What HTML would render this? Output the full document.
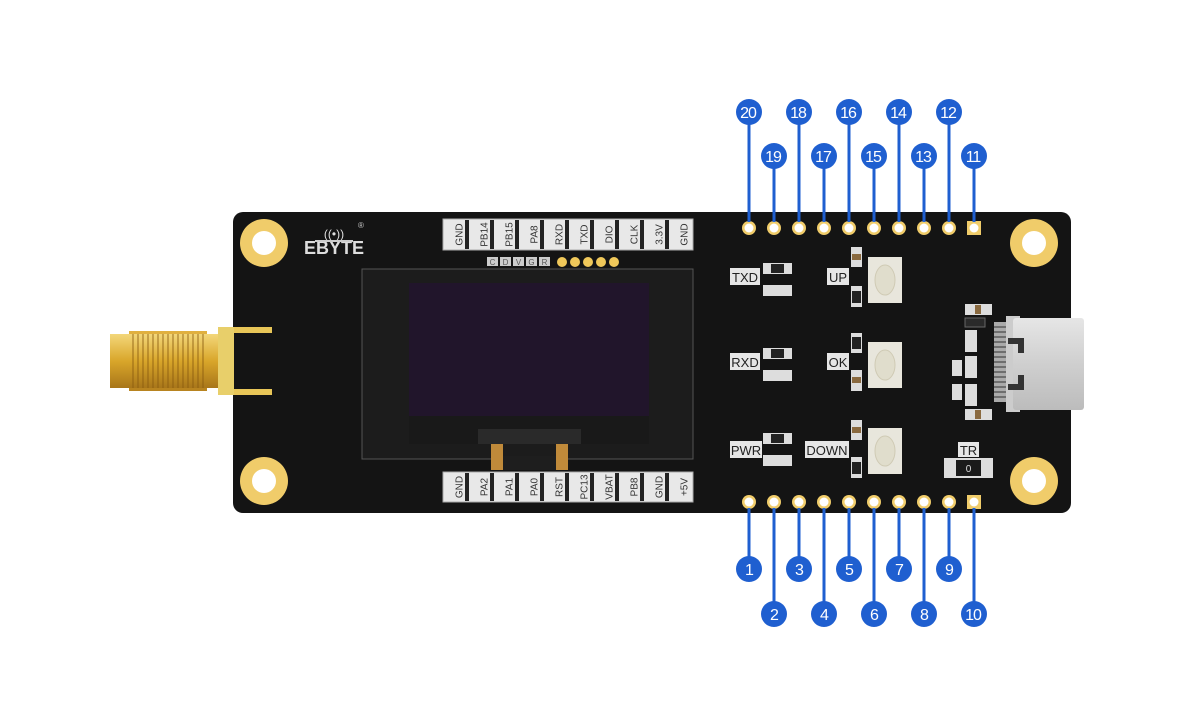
<!DOCTYPE html>
<html><head><meta charset="utf-8"><style>
html,body{margin:0;padding:0;background:#fff;}
svg{display:block;font-family:"Liberation Sans",sans-serif;}
</style></head><body>
<svg width="1200" height="727" viewBox="0 0 1200 727" xmlns="http://www.w3.org/2000/svg">
<defs>
<linearGradient id="gold" x1="0" y1="0" x2="0" y2="1">
<stop offset="0" stop-color="#f3d77a"/><stop offset="0.5" stop-color="#d9a62a"/><stop offset="1" stop-color="#a8761a"/>
</linearGradient>
<linearGradient id="usb" x1="0" y1="0" x2="0" y2="1">
<stop offset="0" stop-color="#e6e6e6"/><stop offset="0.5" stop-color="#cfcfcf"/><stop offset="1" stop-color="#bcbcbc"/>
</linearGradient>
</defs>
<!-- antenna -->
<rect x="110" y="334" width="110" height="54" fill="url(#gold)"/>
<g stroke="#8a5c10" stroke-width="1.2" opacity="0.7">
<line x1="133" y1="331" x2="133" y2="391"/><line x1="138" y1="331" x2="138" y2="391"/><line x1="143" y1="331" x2="143" y2="391"/><line x1="148" y1="331" x2="148" y2="391"/><line x1="153" y1="331" x2="153" y2="391"/><line x1="158" y1="331" x2="158" y2="391"/><line x1="163" y1="331" x2="163" y2="391"/><line x1="168" y1="331" x2="168" y2="391"/><line x1="173" y1="331" x2="173" y2="391"/><line x1="178" y1="331" x2="178" y2="391"/><line x1="183" y1="331" x2="183" y2="391"/><line x1="188" y1="331" x2="188" y2="391"/><line x1="193" y1="331" x2="193" y2="391"/><line x1="198" y1="331" x2="198" y2="391"/><line x1="203" y1="331" x2="203" y2="391"/>
</g>
<rect x="129" y="331" width="78" height="3" fill="#e0b040"/><rect x="129" y="388" width="78" height="3" fill="#b88420"/>
<!-- board -->
<rect x="233" y="212" width="838" height="301" rx="10" fill="#141414"/>
<!-- antenna bracket -->
<rect x="218" y="327" width="16" height="68" fill="#e8cf6a"/>
<rect x="234" y="327" width="38" height="6" fill="#e8c658"/>
<rect x="234" y="389" width="38" height="6" fill="#e8c658"/>
<!-- holes -->
<g fill="#f0cc6a"><circle cx="264" cy="243" r="24"/><circle cx="264" cy="481" r="24"/><circle cx="1034" cy="243" r="24"/><circle cx="1034" cy="481" r="24"/></g>
<g fill="#fff"><circle cx="264" cy="243" r="12"/><circle cx="264" cy="481" r="12"/><circle cx="1034" cy="243" r="12"/><circle cx="1034" cy="481" r="12"/></g>
<!-- logo -->
<text x="334" y="254" text-anchor="middle" fill="#ddd" font-size="18" font-weight="bold">EBYTE</text>
<text x="334" y="238" text-anchor="middle" fill="#ddd" font-size="12">((•))</text>
<text x="358" y="228" fill="#ccc" font-size="8">®</text>
<rect x="315" y="240" width="38" height="2" fill="#ccc"/>
<!-- top label strip -->
<rect x="443" y="219" width="250" height="31" fill="#e8e8e8" stroke="#aaa"/>
<g fill="#222"><rect x="465" y="220" width="4" height="29"/><rect x="490" y="220" width="4" height="29"/><rect x="515" y="220" width="4" height="29"/><rect x="540" y="220" width="4" height="29"/><rect x="565" y="220" width="4" height="29"/><rect x="590" y="220" width="4" height="29"/><rect x="615" y="220" width="4" height="29"/><rect x="640" y="220" width="4" height="29"/><rect x="665" y="220" width="4" height="29"/></g>
<g fill="#333" font-size="10" text-anchor="middle">
<text transform="translate(459,234.5) rotate(-90)" dy="3.5">GND</text>
<text transform="translate(484,234.5) rotate(-90)" dy="3.5">PB14</text>
<text transform="translate(509,234.5) rotate(-90)" dy="3.5">PB15</text>
<text transform="translate(534,234.5) rotate(-90)" dy="3.5">PA8</text>
<text transform="translate(559,234.5) rotate(-90)" dy="3.5">RXD</text>
<text transform="translate(584,234.5) rotate(-90)" dy="3.5">TXD</text>
<text transform="translate(609,234.5) rotate(-90)" dy="3.5">DIO</text>
<text transform="translate(634,234.5) rotate(-90)" dy="3.5">CLK</text>
<text transform="translate(659,234.5) rotate(-90)" dy="3.5">3.3V</text>
<text transform="translate(684,234.5) rotate(-90)" dy="3.5">GND</text>
</g>
<!-- CDVGR -->
<g fill="#ccc"><rect x="487" y="257" width="11" height="9"/><rect x="500" y="257" width="11" height="9"/><rect x="513" y="257" width="11" height="9"/><rect x="526" y="257" width="11" height="9"/><rect x="539" y="257" width="11" height="9"/></g>
<g fill="#555" font-size="8" text-anchor="middle"><text x="492.5" y="265">C</text><text x="505.5" y="265">D</text><text x="518.5" y="265">V</text><text x="531.5" y="265">G</text><text x="544.5" y="265">R</text></g>
<g fill="#f0c85a"><circle cx="562" cy="262" r="5"/><circle cx="575" cy="262" r="5"/><circle cx="588" cy="262" r="5"/><circle cx="601" cy="262" r="5"/><circle cx="614" cy="262" r="5"/></g>
<!-- OLED -->
<rect x="362" y="269" width="331" height="190" fill="#1c1c1c" stroke="#555"/>
<rect x="409" y="283" width="240" height="161" fill="#191919"/>
<rect x="409" y="283" width="240" height="133" fill="#21152b"/>
<rect x="478" y="429" width="103" height="15" fill="#2a2a2a"/>
<rect x="491" y="444" width="12" height="26" fill="#c08a3a"/>
<rect x="556" y="444" width="12" height="26" fill="#c08a3a"/>
<rect x="503" y="456" width="53" height="14" fill="#1e1e1e"/>
<!-- bottom label strip -->
<rect x="443" y="472" width="250" height="30" fill="#e8e8e8" stroke="#aaa"/>
<g fill="#222"><rect x="465" y="473" width="4" height="28"/><rect x="490" y="473" width="4" height="28"/><rect x="515" y="473" width="4" height="28"/><rect x="540" y="473" width="4" height="28"/><rect x="565" y="473" width="4" height="28"/><rect x="590" y="473" width="4" height="28"/><rect x="615" y="473" width="4" height="28"/><rect x="640" y="473" width="4" height="28"/><rect x="665" y="473" width="4" height="28"/></g>
<g fill="#333" font-size="10" text-anchor="middle">
<text transform="translate(459,487) rotate(-90)" dy="3.5">GND</text>
<text transform="translate(484,487) rotate(-90)" dy="3.5">PA2</text>
<text transform="translate(509,487) rotate(-90)" dy="3.5">PA1</text>
<text transform="translate(534,487) rotate(-90)" dy="3.5">PA0</text>
<text transform="translate(559,487) rotate(-90)" dy="3.5">RST</text>
<text transform="translate(584,487) rotate(-90)" dy="3.5">PC13</text>
<text transform="translate(609,487) rotate(-90)" dy="3.5">VBAT</text>
<text transform="translate(634,487) rotate(-90)" dy="3.5">PB8</text>
<text transform="translate(659,487) rotate(-90)" dy="3.5">GND</text>
<text transform="translate(684,487) rotate(-90)" dy="3.5">+5V</text>
</g>
<!-- LED labels and parts -->
<g fill="#e6e6e6">
<rect x="730" y="268" width="30" height="17"/><rect x="827" y="268" width="22" height="17"/>
<rect x="730" y="353" width="30" height="17"/><rect x="827" y="353" width="22" height="17"/>
<rect x="730" y="441" width="32" height="17"/><rect x="805" y="441" width="44" height="17"/>
<rect x="958" y="442" width="21" height="15"/>
</g>
<g fill="#222" font-size="13" text-anchor="middle">
<text x="745" y="282">TXD</text><text x="838" y="282">UP</text>
<text x="745" y="367">RXD</text><text x="838" y="367">OK</text>
<text x="746" y="455">PWR</text><text x="827" y="455">DOWN</text>
<text x="968.5" y="455">TR</text>
</g>
<g fill="#ddd">
<rect x="763" y="263" width="29" height="11"/><rect x="763" y="285" width="29" height="11"/>
<rect x="763" y="348" width="29" height="11"/><rect x="763" y="370" width="29" height="11"/>
<rect x="763" y="433" width="29" height="11"/><rect x="763" y="455" width="29" height="11"/>
<rect x="851" y="247" width="11" height="20"/><rect x="851" y="286" width="11" height="21"/>
<rect x="851" y="333" width="11" height="20"/><rect x="851" y="370" width="11" height="21"/>
<rect x="851" y="420" width="11" height="20"/><rect x="851" y="457" width="11" height="21"/>
</g>
<g fill="#222"><rect x="771" y="264" width="13" height="9"/><rect x="771" y="349" width="13" height="9"/><rect x="771" y="434" width="13" height="9"/>
<rect x="852" y="291" width="9" height="12"/><rect x="852" y="337" width="9" height="12"/><rect x="852" y="462" width="9" height="12"/></g>
<g fill="#8a6a40"><rect x="852" y="254" width="9" height="6"/><rect x="852" y="377" width="9" height="6"/><rect x="852" y="427" width="9" height="6"/></g>
<!-- buttons -->
<g fill="#e8e6dc"><rect x="868" y="257" width="34" height="46"/><rect x="868" y="342" width="34" height="46"/><rect x="868" y="428" width="34" height="46"/></g>
<g fill="#e0ddcc" stroke="#cfcab4"><ellipse cx="885" cy="280" rx="10" ry="15"/><ellipse cx="885" cy="365" rx="10" ry="15"/><ellipse cx="885" cy="451" rx="10" ry="15"/></g>
<!-- TR switch -->
<rect x="944" y="458" width="49" height="20" fill="#ddd"/>
<rect x="956" y="460" width="25" height="16" fill="#1a1a1a"/>
<text x="968.5" y="472" fill="#ddd" font-size="10" text-anchor="middle">0</text>
<!-- USB area parts -->
<g fill="#ddd"><rect x="965" y="304" width="27" height="11"/><rect x="965" y="409" width="27" height="11"/>
<rect x="965" y="330" width="12" height="22"/><rect x="965" y="356" width="12" height="22"/><rect x="965" y="384" width="12" height="22"/>
<rect x="952" y="360" width="10" height="16"/><rect x="952" y="384" width="10" height="16"/></g>
<rect x="965" y="318" width="20" height="9" fill="#2a2a2a" stroke="#666"/>
<g fill="#8a6a40"><rect x="975" y="305" width="6" height="9"/><rect x="975" y="410" width="6" height="9"/></g>
<!-- USB-C -->
<rect x="994" y="322" width="18" height="80" fill="#aaa"/>
<g stroke="#333" stroke-width="1"><line x1="994" y1="327" x2="1010" y2="327"/><line x1="994" y1="332" x2="1010" y2="332"/><line x1="994" y1="337" x2="1010" y2="337"/><line x1="994" y1="342" x2="1010" y2="342"/><line x1="994" y1="347" x2="1010" y2="347"/><line x1="994" y1="352" x2="1010" y2="352"/><line x1="994" y1="357" x2="1010" y2="357"/><line x1="994" y1="362" x2="1010" y2="362"/><line x1="994" y1="367" x2="1010" y2="367"/><line x1="994" y1="372" x2="1010" y2="372"/><line x1="994" y1="377" x2="1010" y2="377"/><line x1="994" y1="382" x2="1010" y2="382"/><line x1="994" y1="387" x2="1010" y2="387"/><line x1="994" y1="392" x2="1010" y2="392"/><line x1="994" y1="397" x2="1010" y2="397"/></g>
<rect x="1006" y="316" width="14" height="96" fill="#ccc"/>
<rect x="1013" y="318" width="71" height="92" rx="3" fill="url(#usb)"/>
<g fill="#333"><rect x="1008" y="338" width="16" height="6"/><rect x="1018" y="338" width="6" height="15"/><rect x="1008" y="384" width="16" height="6"/><rect x="1018" y="375" width="6" height="15"/></g>
<!-- pins -->
<g fill="#f0cc6a">
<circle cx="749" cy="228" r="7"/><circle cx="774" cy="228" r="7"/><circle cx="799" cy="228" r="7"/><circle cx="824" cy="228" r="7"/><circle cx="849" cy="228" r="7"/><circle cx="874" cy="228" r="7"/><circle cx="899" cy="228" r="7"/><circle cx="924" cy="228" r="7"/><circle cx="949" cy="228" r="7"/><rect x="967" y="221" width="14" height="14"/>
<circle cx="749" cy="502" r="7"/><circle cx="774" cy="502" r="7"/><circle cx="799" cy="502" r="7"/><circle cx="824" cy="502" r="7"/><circle cx="849" cy="502" r="7"/><circle cx="874" cy="502" r="7"/><circle cx="899" cy="502" r="7"/><circle cx="924" cy="502" r="7"/><circle cx="949" cy="502" r="7"/><rect x="967" y="495" width="14" height="14"/>
</g>
<g fill="#fff">
<circle cx="749" cy="228" r="4.5"/><circle cx="774" cy="228" r="4.5"/><circle cx="799" cy="228" r="4.5"/><circle cx="824" cy="228" r="4.5"/><circle cx="849" cy="228" r="4.5"/><circle cx="874" cy="228" r="4.5"/><circle cx="899" cy="228" r="4.5"/><circle cx="924" cy="228" r="4.5"/><circle cx="949" cy="228" r="4.5"/><circle cx="974" cy="228" r="4.5"/>
<circle cx="749" cy="502" r="4.5"/><circle cx="774" cy="502" r="4.5"/><circle cx="799" cy="502" r="4.5"/><circle cx="824" cy="502" r="4.5"/><circle cx="849" cy="502" r="4.5"/><circle cx="874" cy="502" r="4.5"/><circle cx="899" cy="502" r="4.5"/><circle cx="924" cy="502" r="4.5"/><circle cx="949" cy="502" r="4.5"/><circle cx="974" cy="502" r="4.5"/>
</g>
<!-- leader lines -->
<g stroke="#1f5fd0" stroke-width="3">
<line x1="749" y1="112" x2="749" y2="222"/><line x1="774" y1="156" x2="774" y2="222"/><line x1="799" y1="112" x2="799" y2="222"/><line x1="824" y1="156" x2="824" y2="222"/><line x1="849" y1="112" x2="849" y2="222"/><line x1="874" y1="156" x2="874" y2="222"/><line x1="899" y1="112" x2="899" y2="222"/><line x1="924" y1="156" x2="924" y2="222"/><line x1="949" y1="112" x2="949" y2="222"/><line x1="974" y1="156" x2="974" y2="222"/>
<line x1="749" y1="508" x2="749" y2="569"/><line x1="774" y1="508" x2="774" y2="614"/><line x1="799" y1="508" x2="799" y2="569"/><line x1="824" y1="508" x2="824" y2="614"/><line x1="849" y1="508" x2="849" y2="569"/><line x1="874" y1="508" x2="874" y2="614"/><line x1="899" y1="508" x2="899" y2="569"/><line x1="924" y1="508" x2="924" y2="614"/><line x1="949" y1="508" x2="949" y2="569"/><line x1="974" y1="508" x2="974" y2="614"/>
</g>
<g fill="#1f5fd0">
<circle cx="749" cy="112" r="13"/><circle cx="799" cy="112" r="13"/><circle cx="849" cy="112" r="13"/><circle cx="899" cy="112" r="13"/><circle cx="949" cy="112" r="13"/>
<circle cx="774" cy="156" r="13"/><circle cx="824" cy="156" r="13"/><circle cx="874" cy="156" r="13"/><circle cx="924" cy="156" r="13"/><circle cx="974" cy="156" r="13"/>
<circle cx="749" cy="569" r="13"/><circle cx="799" cy="569" r="13"/><circle cx="849" cy="569" r="13"/><circle cx="899" cy="569" r="13"/><circle cx="949" cy="569" r="13"/>
<circle cx="774" cy="614" r="13"/><circle cx="824" cy="614" r="13"/><circle cx="874" cy="614" r="13"/><circle cx="924" cy="614" r="13"/><circle cx="974" cy="614" r="13"/>
</g>
<g fill="#fff" font-size="16" text-anchor="middle" letter-spacing="-1">
<text x="748" y="118">20</text><text x="798" y="118">18</text><text x="848" y="118">16</text><text x="898" y="118">14</text><text x="948" y="118">12</text>
<text x="773" y="162">19</text><text x="823" y="162">17</text><text x="873" y="162">15</text><text x="923" y="162">13</text><text x="973" y="162">11</text>
<text x="749" y="575">1</text><text x="799" y="575">3</text><text x="849" y="575">5</text><text x="899" y="575">7</text><text x="949" y="575">9</text>
<text x="774" y="620">2</text><text x="824" y="620">4</text><text x="874" y="620">6</text><text x="924" y="620">8</text><text x="973" y="620">10</text>
</g>
</svg>
</body></html>
